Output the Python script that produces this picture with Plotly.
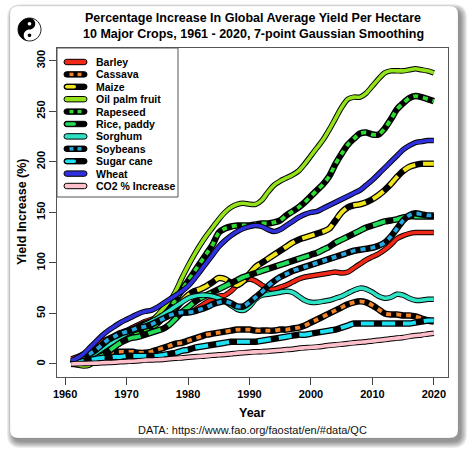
import plotly.graph_objects as go

# ---------------- data ----------------
years = list(range(1961, 2021))

barley = [5, 7, 10, 14, 18, 22, 25, 28, 31, 33,
          36, 39, 42, 44, 46, 48, 49, 50, 50, 51,
          53, 57, 61, 64, 67, 68, 72, 78, 82, 84,
          82, 78, 75, 74, 76, 78, 81, 84, 86, 87,
          88, 89, 90, 91, 90, 91, 95, 99, 103, 106,
          109, 113, 118, 124, 127, 129, 130, 130, 130, 130]
cassava = [0, 3, 6, 9, 11, 12, 12, 12, 12, 12,
           12, 11, 11, 12, 14, 16, 18, 20, 21, 23,
           25, 27, 29, 30, 31, 32, 33, 34, 34, 34,
           33, 33, 33, 33, 34, 34, 35, 36, 38, 41,
           44, 47, 50, 53, 56, 59, 61, 62, 61, 58,
           54, 50, 49, 49, 48, 48, 47, 45, 43, 42]
maize = [1, 3, 6, 10, 14, 18, 22, 26, 29, 31,
         34, 37, 40, 42, 44, 47, 50, 55, 62, 68,
         72, 74, 77, 81, 85, 84, 80, 78, 82, 89,
         96, 100, 104, 108, 112, 116, 120, 123, 125, 127,
         129, 131, 134, 142, 150, 155, 157, 158, 160, 163,
         167, 172, 178, 185, 191, 195, 197, 198, 198, 198]
oil_palm = [0, -1, -2, -1, 4, 8, 12, 16, 21, 25,
            29, 33, 37, 42, 48, 55, 62, 72, 85, 97,
            108, 118, 127, 135, 143, 150, 155, 158, 159, 158,
            158, 162, 170, 177, 181, 184, 187, 191, 198, 206,
            214, 222, 232, 243, 254, 262, 264, 264, 268, 275,
            282, 288, 290, 290, 290, 291, 292, 291, 290, 288]
rapeseed = [0, 2, 5, 8, 11, 14, 17, 20, 23, 25,
            28, 30, 33, 36, 40, 46, 54, 64, 73, 82,
            91, 100, 109, 118, 130, 134, 136, 137, 137, 137,
            138, 139, 139, 140, 142, 147, 151, 155, 160, 166,
            172, 178, 186, 198, 208, 217, 223, 228, 229, 227,
            227, 233, 242, 252, 258, 263, 265, 264, 262, 260]
rice = [0, 1, 3, 4, 6, 8, 12, 17, 21, 24,
        26, 27, 29, 31, 33, 35, 39, 45, 51, 56,
        61, 65, 68, 71, 74, 77, 80, 83, 86, 88,
        90, 92, 94, 96, 98, 100, 102, 104, 106, 108,
        110, 113, 116, 120, 123, 126, 129, 132, 135, 137,
        139, 141, 142, 143, 145, 146, 146, 146, 146, 146]
sorghum = [0, 2, 5, 8, 11, 15, 19, 23, 27, 30,
           33, 36, 39, 42, 45, 49, 53, 57, 61, 65,
           67, 68, 68, 67, 65, 62, 58, 54, 53, 57,
           64, 68, 69, 70, 71, 72, 71, 67, 63, 61,
           61, 62, 63, 65, 67, 70, 73, 75, 74, 71,
           67, 65, 66, 69, 68, 65, 63, 63, 64, 64]
soybeans = [0, 3, 6, 10, 14, 19, 24, 27, 30, 32,
            34, 36, 37, 39, 42, 45, 48, 50, 51, 51,
            52, 54, 56, 59, 61, 62, 60, 57, 57, 61,
            66, 71, 77, 82, 86, 89, 92, 94, 96, 98,
            100, 102, 104, 106, 108, 110, 112, 113, 114, 115,
            117, 120, 126, 134, 142, 147, 149, 148, 147, 147]
sugar_cane = [0, 1, 3, 4, 5, 6, 6, 7, 7, 8,
              8, 8, 8, 8, 8, 9, 10, 11, 13, 14,
              16, 17, 18, 19, 20, 21, 22, 22, 22, 22,
              22, 23, 24, 25, 26, 27, 28, 29, 29, 30,
              31, 32, 33, 34, 36, 38, 40, 40, 40, 40,
              40, 40, 40, 40, 40, 40, 41, 42, 43, 43]
wheat = [3, 6, 10, 16, 22, 28, 33, 37, 41, 44,
         47, 50, 52, 53, 56, 60, 64, 68, 72, 77,
         84, 92, 100, 108, 116, 122, 127, 131, 134, 136,
         137, 136, 133, 131, 133, 137, 141, 145, 148, 150,
         151, 154, 157, 160, 163, 166, 169, 172, 177, 182,
         188, 194, 200, 206, 212, 216, 219, 220, 221, 221]
co2 = [0, 0.3, 0.4, 0.6, 0.8, 1.2, 1.4, 1.7, 2.2, 2.5,
       2.7, 3.1, 3.8, 3.9, 4.2, 4.5, 5.1, 5.6, 6.0, 6.6,
       7.1, 7.5, 8.0, 8.6, 9.0, 9.4, 10.0, 10.7, 11.2, 11.6,
       12.0, 12.2, 12.5, 13.0, 13.6, 14.2, 14.6, 15.5, 16.0, 16.4,
       16.9, 17.6, 18.4, 18.9, 19.6, 20.3, 20.9, 21.5, 22.0, 22.8,
       23.4, 24.1, 24.9, 25.6, 26.2, 27.3, 28.1, 28.7, 29.6, 30.4]

series_names = ["Barley", "Cassava", "Maize", "Oil palm fruit", "Rapeseed",
                "Rice, paddy", "Sorghum", "Soybeans", "Sugar cane", "Wheat",
                "CO2 % Increase"]
series_values = [barley, cassava, maize, oil_palm, rapeseed, rice, sorghum,
                 soybeans, sugar_cane, wheat, co2]
series_colors = ["#F02818", "#F08426", "#F2E41C", "#93E21A", "#2EDC2E",
                 "#22DC5A", "#2EE2C4", "#24A8E2", "#1EE0F2", "#3030DC",
                 "#FFC0CB"]
series_styles = ["solid", "dots", "long", "solid", "dots", "long", "solid",
                 "dots", "long", "solid", "solid"]

x_ticks = [1960, 1970, 1980, 1990, 2000, 2010, 2020]
y_ticks = [0, 50, 100, 150, 200, 250, 300]

# ---------------- geometry helpers ----------------
W, H = 474, 459
L, R, T, B = 57, 448, 48, 377
FONT = "Liberation Sans, Arial, Helvetica, sans-serif"


def fx(px):
    return (px - L) / (R - L)


def fy(py):
    return (B - py) / (B - T)


def P(px, py):
    return f"{fx(px):.5f},{fy(py):.5f}"


def rrect_path(x0, y0, x1, y1, r):
    return (f"M {P(x0 + r, y0)} L {P(x1 - r, y0)} Q {P(x1, y0)} {P(x1, y0 + r)} "
            f"L {P(x1, y1 - r)} Q {P(x1, y1)} {P(x1 - r, y1)} "
            f"L {P(x0 + r, y1)} Q {P(x0, y1)} {P(x0, y1 - r)} "
            f"L {P(x0, y0 + r)} Q {P(x0, y0)} {P(x0 + r, y0)} Z")


K = 0.5523


def circle_path(cx, cy, r):
    k = K * r
    return (f"M {P(cx, cy - r)} C {P(cx + k, cy - r)} {P(cx + r, cy - k)} {P(cx + r, cy)} "
            f"C {P(cx + r, cy + k)} {P(cx + k, cy + r)} {P(cx, cy + r)} "
            f"C {P(cx - k, cy + r)} {P(cx - r, cy + k)} {P(cx - r, cy)} "
            f"C {P(cx - r, cy - k)} {P(cx - k, cy - r)} {P(cx, cy - r)} Z")


def yin_path(cx, cy, r):
    k = K * r
    h = r / 2
    kh = K * h
    return (f"M {P(cx, cy - r)} "
            f"C {P(cx - k, cy - r)} {P(cx - r, cy - k)} {P(cx - r, cy)} "
            f"C {P(cx - r, cy + k)} {P(cx - k, cy + r)} {P(cx, cy + r)} "
            f"C {P(cx - kh, cy + r)} {P(cx - h, cy + h + kh)} {P(cx - h, cy + h)} "
            f"C {P(cx - h, cy + h - kh)} {P(cx - kh, cy)} {P(cx, cy)} "
            f"C {P(cx + kh, cy)} {P(cx + h, cy - h + kh)} {P(cx + h, cy - h)} "
            f"C {P(cx + h, cy - h - kh)} {P(cx + kh, cy - r)} {P(cx, cy - r)} Z")


# ---------------- figure ----------------
fig = go.Figure()

for name, vals, col, sty in zip(series_names, series_values, series_colors, series_styles):
    if sty == "solid":
        wb, wc, dash = 5.5, 3.6, "solid"
    elif sty == "dots":
        wb, wc, dash = 6.5, 3.8, "5px,5px"
    else:
        wb, wc, dash = 6.5, 4.0, "13px,8px"
    fig.add_trace(go.Scatter(x=years, y=vals, mode="lines",
                             line=dict(color="black", width=wb, shape="spline", smoothing=0.8),
                             hoverinfo="skip", showlegend=False))
    fig.add_trace(go.Scatter(x=years, y=vals, mode="lines", name=name,
                             line=dict(color=col, width=wc, dash=dash, shape="spline", smoothing=0.8),
                             showlegend=False))

shapes = []
# card shadow
for i in range(7):
    shapes.append(dict(type="path", xref="paper", yref="paper", layer="below",
                       path=rrect_path(10 + 3 - i, 6 + 4 - i, 458 + 3 + i, 438 + 4 + i, 8 + i),
                       fillcolor="rgba(0,0,0,0.07)", line=dict(width=0)))
# card
shapes.append(dict(type="path", xref="paper", yref="paper", layer="below",
                   path=rrect_path(10, 6, 458, 438, 8),
                   fillcolor="white", line=dict(color="rgba(0,0,0,0.12)", width=0.6)))

# legend box
LBX0, LBY0, LBX1, LBY1 = 57, 48, 178, 197
shapes.append(dict(type="rect", xref="paper", yref="paper", layer="above",
                   x0=fx(LBX0), y0=fy(LBY1), x1=fx(LBX1), y1=fy(LBY0),
                   fillcolor="white", line=dict(color="#555555", width=1)))

annotations = []
row0, rowstep = 62, 12.4
sx0, sx1, hh = 64, 87, 2.7
for i, (name, col, sty) in enumerate(zip(series_names, series_colors, series_styles)):
    yy = row0 + rowstep * i
    if sty == "solid":
        shapes.append(dict(type="path", xref="paper", yref="paper", layer="above",
                           path=rrect_path(sx0, yy - hh, sx1, yy + hh, hh),
                           fillcolor=col, line=dict(color="black", width=1)))
    else:
        shapes.append(dict(type="path", xref="paper", yref="paper", layer="above",
                           path=rrect_path(sx0, yy - hh, sx1, yy + hh, hh),
                           fillcolor="black", line=dict(color="black", width=1)))
        if sty == "dots":
            for a, b in [(69.5, 73.5), (77.5, 81.5)]:
                shapes.append(dict(type="rect", xref="paper", yref="paper", layer="above",
                                   x0=fx(a), x1=fx(b), y0=fy(yy + 1.7), y1=fy(yy - 1.7),
                                   fillcolor=col, line=dict(width=0)))
        else:
            shapes.append(dict(type="path", xref="paper", yref="paper", layer="above",
                               path=rrect_path(sx0 + 1, yy - 1.8, 76, yy + 1.8, 1.8),
                               fillcolor=col, line=dict(width=0)))
    annotations.append(dict(xref="paper", yref="paper", x=fx(94), y=fy(yy),
                            xanchor="left", yanchor="middle", showarrow=False,
                            text=name, font=dict(family=FONT, size=10.5, color="black", weight="bold")))

# icon
cx, cy, r = 29.5, 29.5, 11.5
shapes.append(dict(type="path", xref="paper", yref="paper", layer="above",
                   path=circle_path(cx, cy, r), fillcolor="white",
                   line=dict(color="#222222", width=1)))
shapes.append(dict(type="path", xref="paper", yref="paper", layer="above",
                   path=yin_path(cx, cy, r), fillcolor="black", line=dict(width=0)))
shapes.append(dict(type="path", xref="paper", yref="paper", layer="above",
                   path=circle_path(cx, cy - r / 2, 1.8), fillcolor="white", line=dict(width=0)))
shapes.append(dict(type="path", xref="paper", yref="paper", layer="above",
                   path=circle_path(cx, cy + r / 2, 1.8), fillcolor="black", line=dict(width=0)))

# titles
annotations.append(dict(xref="paper", yref="paper", x=fx(253), y=fy(18), showarrow=False,
                        xanchor="center", yanchor="middle",
                        text="Percentage Increase In Global Average Yield Per Hectare",
                        font=dict(family=FONT, size=12.5, color="black", weight="bold")))
annotations.append(dict(xref="paper", yref="paper", x=fx(253), y=fy(34), showarrow=False,
                        xanchor="center", yanchor="middle",
                        text="10 Major Crops, 1961 - 2020, 7-point Gaussian Smoothing",
                        font=dict(family=FONT, size=12.5, color="black", weight="bold")))
annotations.append(dict(xref="paper", yref="paper", x=fx(252.5), y=fy(413), showarrow=False,
                        xanchor="center", yanchor="middle", text="Year",
                        font=dict(family=FONT, size=12.5, color="black", weight="bold")))
annotations.append(dict(xref="paper", yref="paper", x=fx(252), y=fy(430), showarrow=False,
                        xanchor="center", yanchor="middle",
                        text="DATA: https://www.fao.org/faostat/en/#data/QC",
                        font=dict(family=FONT, size=11, color="#111111")))
annotations.append(dict(xref="paper", yref="paper", x=fx(22), y=fy(212), showarrow=False,
                        xanchor="center", yanchor="middle", textangle=-90,
                        text="Yield Increase (%)",
                        font=dict(family=FONT, size=12.5, color="black", weight="bold")))

fig.update_layout(
    width=W, height=H,
    margin=dict(l=L, r=W - R, t=T, b=H - B, pad=0),
    paper_bgcolor="white", plot_bgcolor="rgba(0,0,0,0)",
    showlegend=False, hovermode=False,
    shapes=shapes, annotations=annotations,
    xaxis=dict(range=[1958.68, 2022.3], tickmode="array", tickvals=x_ticks,
               ticktext=[str(v) for v in x_ticks],
               ticks="outside", ticklen=7, tickwidth=1, tickcolor="#444444",
               showline=True, mirror=True, linecolor="#555555", linewidth=1,
               showgrid=False, zeroline=False,
               tickfont=dict(family=FONT, size=11, color="black", weight="bold")),
    yaxis=dict(range=[-12.9, 312.6], tickmode="array", tickvals=y_ticks,
               ticktext=[str(v) for v in y_ticks], tickangle=-90,
               ticks="outside", ticklen=7, tickwidth=1, tickcolor="#444444",
               showline=True, mirror=True, linecolor="#555555", linewidth=1,
               showgrid=False, zeroline=False,
               tickfont=dict(family=FONT, size=11, color="black", weight="bold")),
)

fig.write_html("out.html", config={"displayModeBar": False, "staticPlot": True},
               post_script="document.body.style.margin='0';document.body.style.overflow='hidden';")
